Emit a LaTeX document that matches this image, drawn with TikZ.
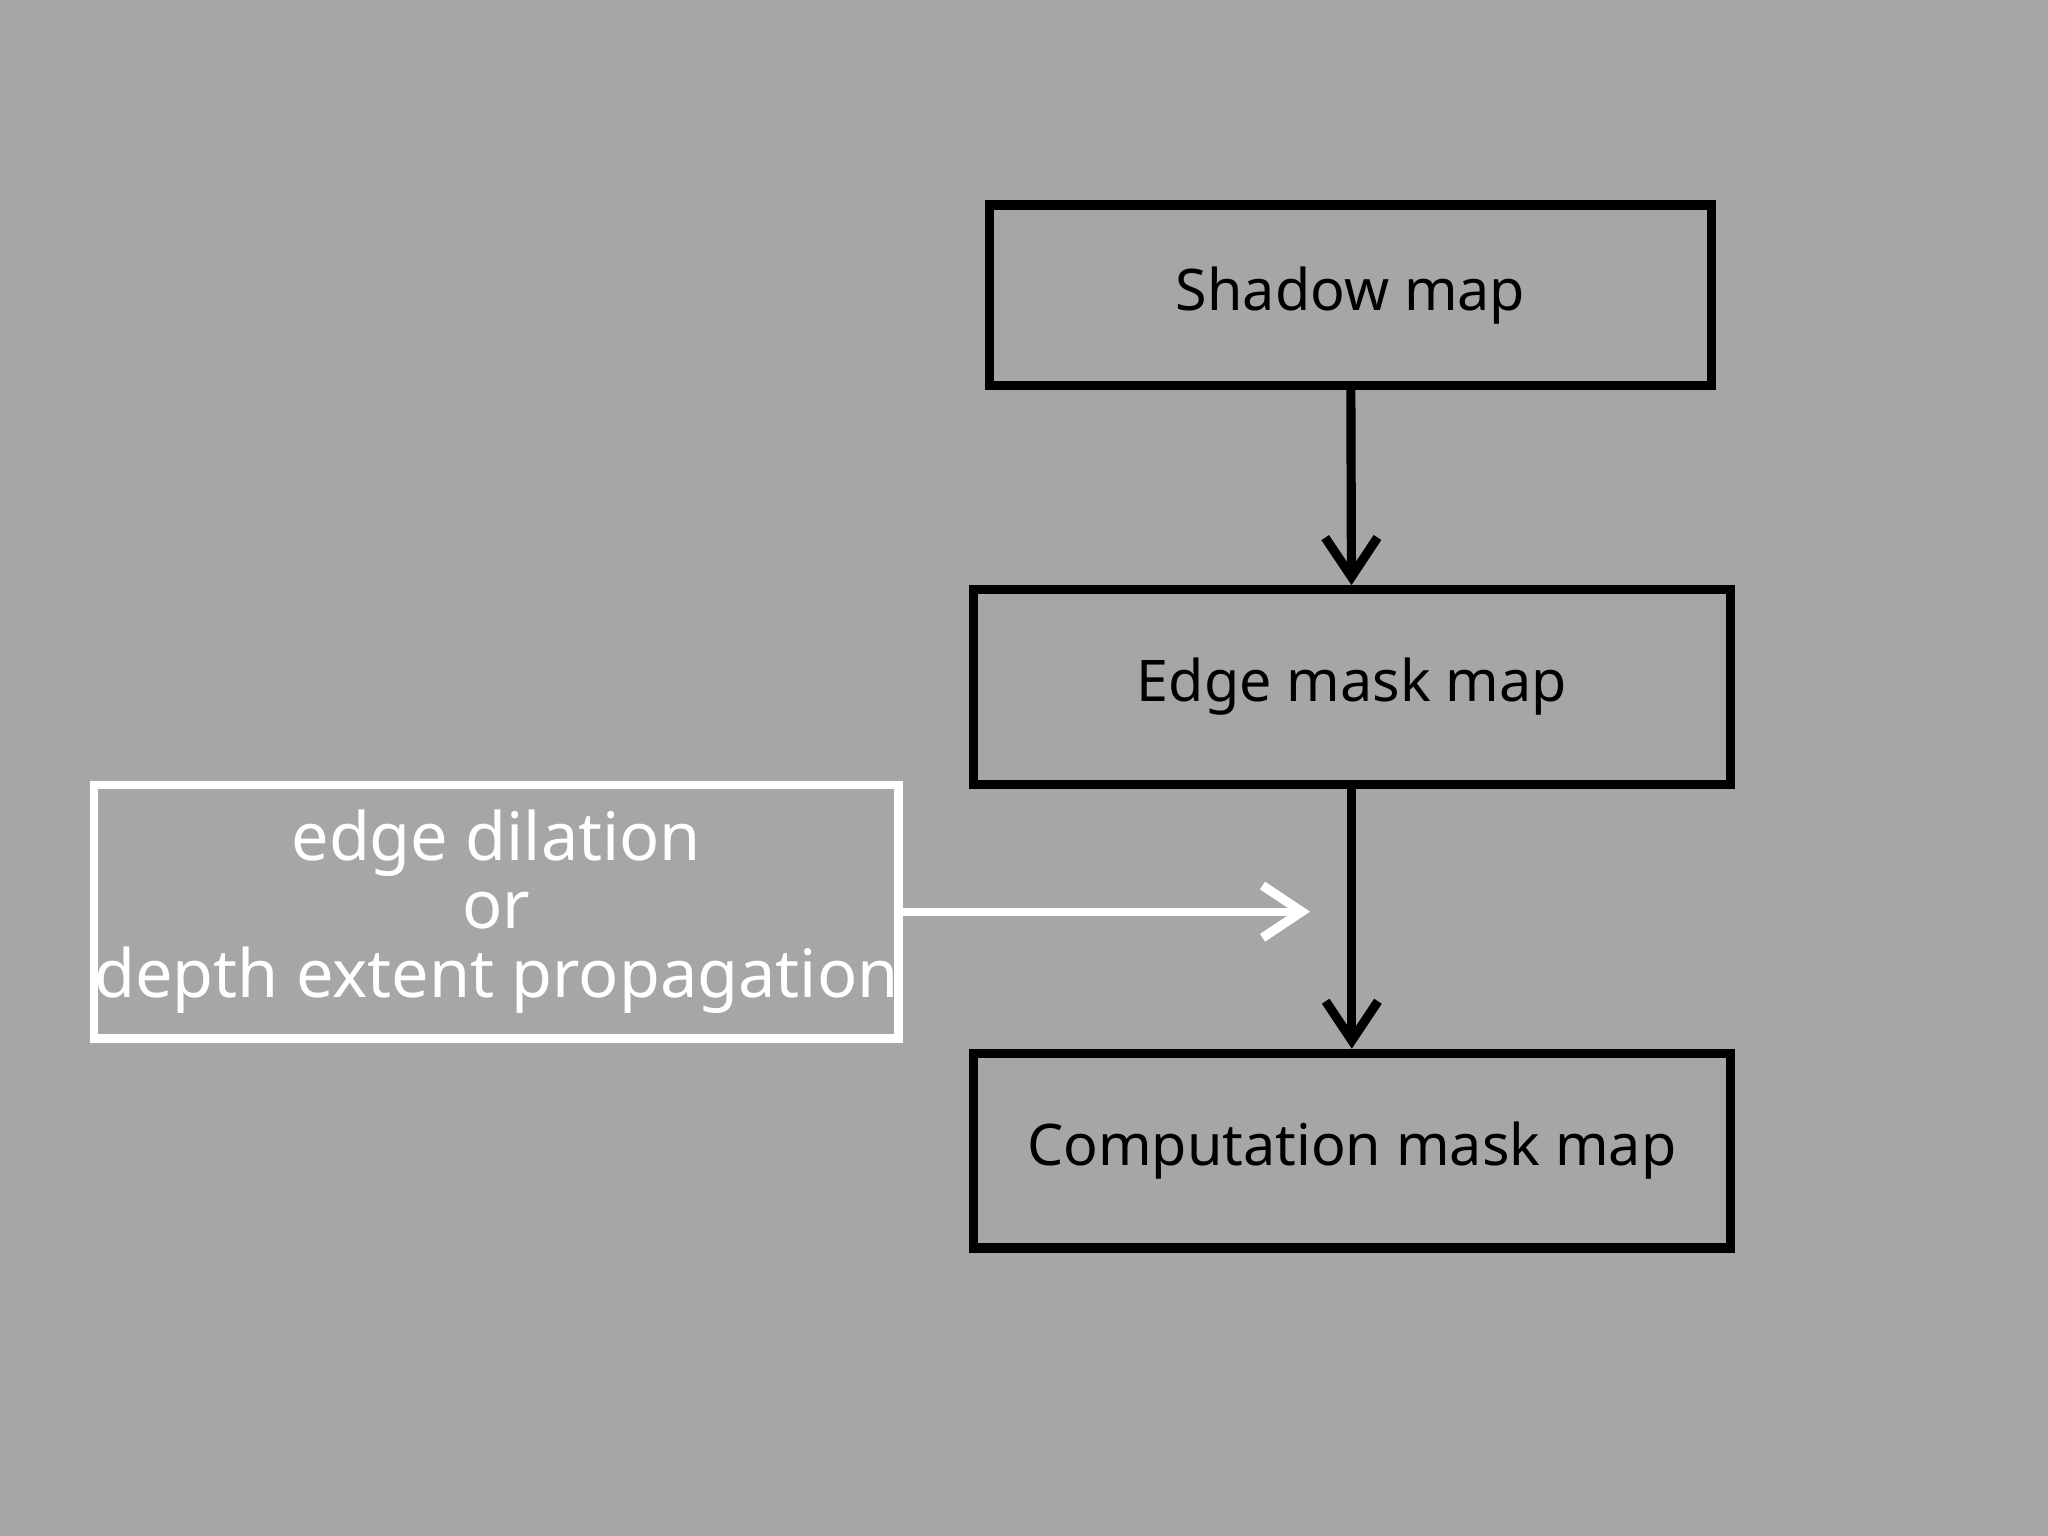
\documentclass[tikz,border=0pt]{standalone}
\usepackage{fontspec}
\setmainfont{Noto Sans}
\usetikzlibrary{arrows.meta}
\definecolor{bg}{HTML}{A6A6A6}
\begin{document}
\begin{tikzpicture}[x=0.01cm,y=-0.01cm,
  blk/.style={draw=black,line width=2pt,minimum width=5.5cm,minimum height=1.4cm,font=\fontsize{12.5}{15}\selectfont,inner sep=0pt},
  wbox/.style={draw=white,line width=1.8pt,text=white,minimum width=5.62cm,minimum height=1.94cm,align=center,font=\fontsize{14.5}{15}\selectfont,inner sep=0pt},
  arr/.style={line width=2pt,-{Straight Barb[length=0.3cm,width=0.4cm,line width=2pt]}}]
\fill[bg] (0,0) rectangle (1568,1176);
\useasboundingbox (0,0) rectangle (1568,1176);
\node[blk,minimum width=5.53cm,minimum height=1.38cm] (s) at (1034,226) {Shadow map};
\node[blk,minimum width=5.79cm,minimum height=1.49cm] (e) at (1035,526) {Edge mask map};
\node[blk,minimum width=5.79cm,minimum height=1.49cm] (c) at (1035,881) {Computation mask map};
\node[wbox] (w) at (380,698) {edge dilation\\or\\depth extent propagation};
\coordinate (t) at (1003,698);
\draw[arr] (s) -- (e);
\draw[arr] (e) -- (c);
\draw[arr,white,line width=1.8pt] (w.east) -- (t);
\end{tikzpicture}
\end{document}
